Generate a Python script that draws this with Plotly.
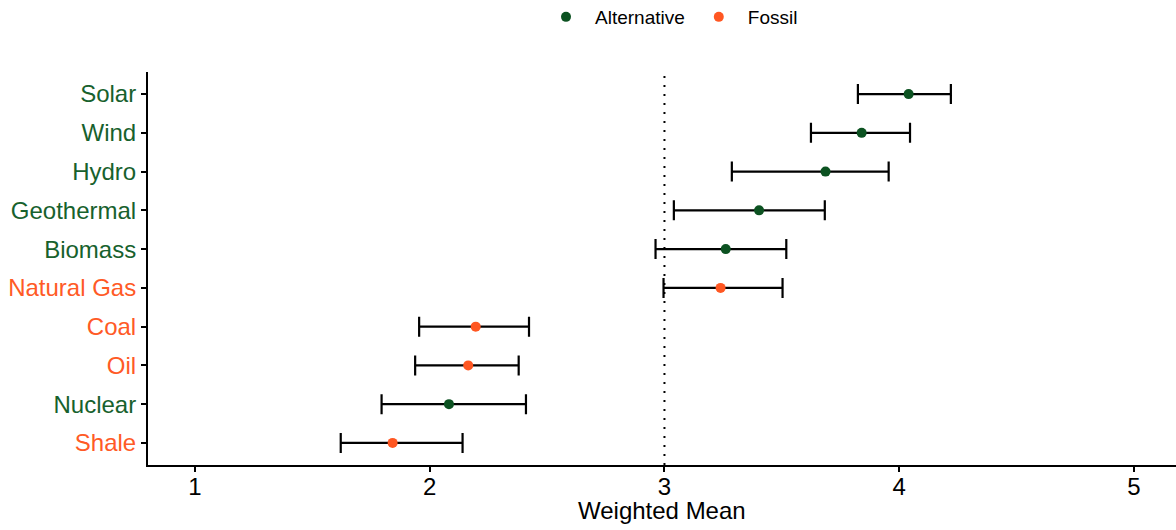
import plotly.graph_objects as go

# Data (bottom to top)
categories = ["Shale", "Nuclear", "Oil", "Coal", "Natural Gas",
              "Biomass", "Geothermal", "Hydro", "Wind", "Solar"]
groups = ["Fossil", "Alternative", "Fossil", "Fossil", "Fossil",
          "Alternative", "Alternative", "Alternative", "Alternative", "Alternative"]
means = [1.842, 2.082, 2.164, 2.196, 3.239, 3.261, 3.403, 3.686, 3.840, 4.040]
lower = [1.621, 1.795, 1.938, 1.955, 2.996, 2.962, 3.040, 3.287, 3.624, 3.824]
upper = [2.140, 2.410, 2.379, 2.423, 3.503, 3.519, 3.683, 3.955, 4.046, 4.220]
ref_value = 3
x_ticks = [1, 2, 3, 4, 5]
x_title = "Weighted Mean"

colors = {"Alternative": "#0C5221", "Fossil": "#FF5722"}
label_colors = {"Alternative": "#17612D", "Fossil": "#FF5A26"}

positions = list(range(1, len(categories) + 1))

fig = go.Figure()
for g in ["Alternative", "Fossil"]:
    idx = [i for i, gg in enumerate(groups) if gg == g]
    fig.add_trace(go.Scatter(
        x=[means[i] for i in idx],
        y=[positions[i] for i in idx],
        mode="markers",
        name=g,
        marker=dict(color=colors[g], size=10),
        error_x=dict(
            type="data", symmetric=False,
            array=[upper[i] - means[i] for i in idx],
            arrayminus=[means[i] - lower[i] for i in idx],
            color="black", thickness=2.2, width=10,
        ),
    ))

fig.add_shape(type="line", x0=ref_value, x1=ref_value, xref="x",
              y0=0, y1=1, yref="paper",
              line=dict(color="black", width=2, dash="2px,7px"), layer="below")

ticktext = [f"<span style='color:{label_colors[g]}'>{c}</span>"
            for c, g in zip(categories, groups)]

W, H = 1176, 530

fig.add_annotation(text=x_title, xref="paper", yref="paper", x=0.5, y=-0.117,
                   xanchor="center", yanchor="middle", showarrow=False,
                   font=dict(size=24, color="black"))

fig.update_layout(
    width=W, height=H,
    margin=dict(l=148, r=0, t=72, b=65, autoexpand=False),
    paper_bgcolor="white", plot_bgcolor="white",
    font=dict(family="Liberation Sans, Arial, sans-serif", color="black", size=24),
    showlegend=True,
    legend=dict(orientation="h", xref="container", yref="container",
                x=537 / W, xanchor="left", y=1 - 17 / H, yanchor="middle",
                font=dict(size=19, color="black"), itemwidth=48,
                bgcolor="rgba(0,0,0,0)"),
    xaxis=dict(range=[0.8, 5.179], tickvals=x_ticks, showgrid=False, zeroline=False,
               showline=True, linecolor="black", linewidth=2, automargin=False,
               ticks="outside", ticklen=5, tickwidth=2, tickcolor="black",
               ticklabelstandoff=-6,
               tickfont=dict(size=24)),
    yaxis=dict(range=[0.43, 10.57], tickvals=positions, ticktext=ticktext,
               showgrid=False, zeroline=False, automargin=False,
               showline=True, linecolor="black", linewidth=2,
               ticks="outside", ticklen=5, tickwidth=2, tickcolor="black",
               tickfont=dict(size=24)),
)

fig.write_html(
    "out.html",
    config={"displayModeBar": False},
    post_script="document.body.style.margin='0';"
                "document.body.style.overflow='hidden';"
                "document.documentElement.style.overflow='hidden';",
)
